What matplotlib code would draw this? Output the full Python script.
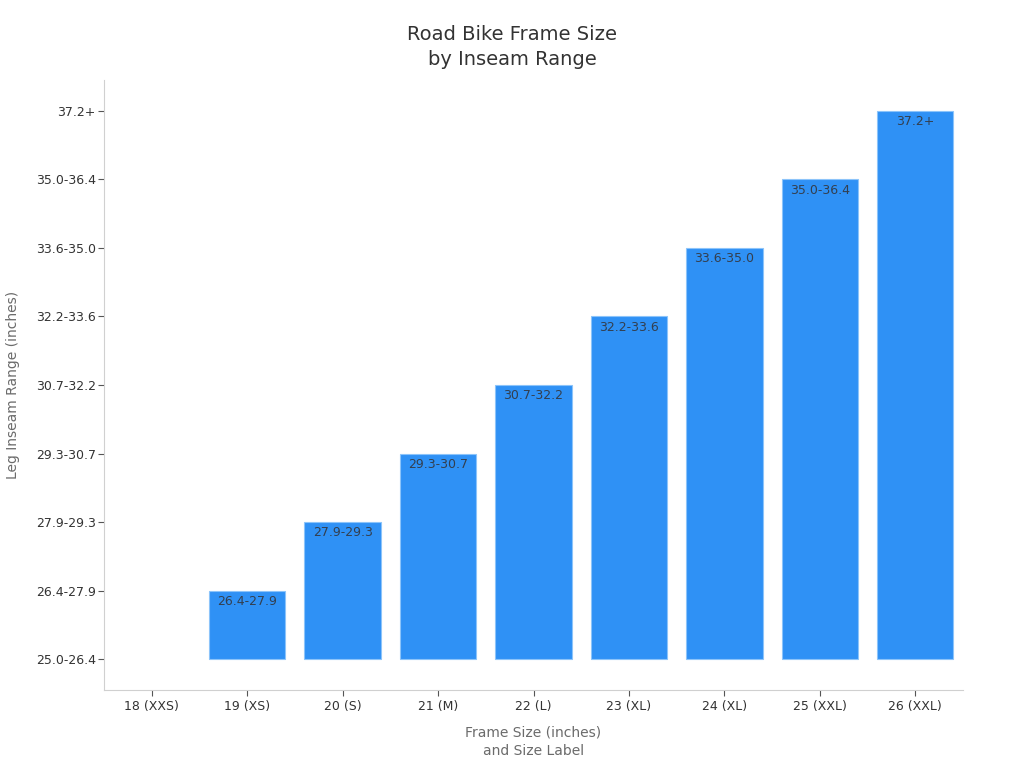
import matplotlib
matplotlib.use("Agg")
import matplotlib.pyplot as plt

frame_sizes = ["18 (XXS)", "19 (XS)", "20 (S)", "21 (M)", "22 (L)", "23 (XL)", "24 (XL)", "25 (XXL)", "26 (XXL)"]
inseam_ranges = ["25.0-26.4", "26.4-27.9", "27.9-29.3", "29.3-30.7", "30.7-32.2", "32.2-33.6", "33.6-35.0", "35.0-36.4", "37.2+"]
bar_inseam = ["25.0-26.4", "26.4-27.9", "27.9-29.3", "29.3-30.7", "30.7-32.2", "32.2-33.6", "33.6-35.0", "35.0-36.4", "37.2+"]

fig = plt.figure(figsize=(10.24, 7.68), dpi=100)
ax = fig.add_axes([0.1016, 0.1016, 0.8388, 0.7942])

heights = [inseam_ranges.index(v) for v in bar_inseam]
xs = list(range(len(frame_sizes)))
lws = [0.8 if h > 0 else 0 for h in heights]
ax.bar(xs, heights, width=0.8, color="#2F91F5", edgecolor="#8CC4FA", linewidth=lws)
for x, h, lab in zip(xs, heights, bar_inseam):
    if h > 0:
        ax.text(x, h - 0.06, lab, ha="center", va="top", fontsize=9, color="#333f4f")

ax.set_xlim(-0.5, 8.5)
ax.set_ylim(-0.45, 8.45)
ax.set_xticks(xs)
ax.set_xticklabels(frame_sizes, fontsize=9, color="#333333")
ax.set_yticks(range(len(inseam_ranges)))
ax.set_yticklabels(inseam_ranges, fontsize=9, color="#333333")
ax.tick_params(axis="both", color="#555555", length=4)
ax.tick_params(axis="y", pad=2)
for s in ["top", "right"]:
    ax.spines[s].set_visible(False)
for s in ["left", "bottom"]:
    ax.spines[s].set_color("#d0d0d0")

ax.set_xlabel("Frame Size (inches)\nand Size Label", fontsize=10, color="#6b6b6b", labelpad=9, linespacing=1.4)
ax.set_ylabel("Leg Inseam Range (inches)", fontsize=10, color="#6b6b6b", labelpad=11)
fig.suptitle("Road Bike Frame Size\nby Inseam Range", fontsize=14, color="#333333", y=0.968, linespacing=1.45)

fig.savefig("out.png", dpi=100)
